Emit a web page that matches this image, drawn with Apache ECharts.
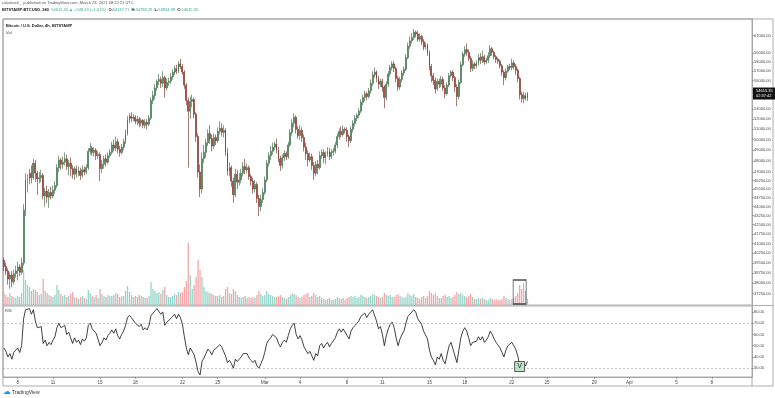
<!DOCTYPE html>
<html><head><meta charset="utf-8">
<script src="https://cdn.jsdelivr.net/npm/echarts@6/dist/echarts.min.js"></script>
<style>html,body{margin:0;padding:0;background:#fff}#c{width:775px;height:398px}</style>
</head><body><div id="c"></div>
<script>
// 4h slots starting 2021-02-06 20:00 UTC
const slotCount = 382;
const startUTC = Date.UTC(2021, 1, 6, 20);

// [open, close, low, high] per 4h candle
const candles = [
[39700,39250,38900,39900],
[39250,38900,38600,39500],[38900,38300,37900,39100],[38300,38600,37600,38800],[38600,38100,37700,38900],[38100,38700,37900,39000],[38700,38900,38400,39300],
[38900,39200,38200,39600],[39200,38800,38500,39400],[38800,39500,38600,39900],[39500,43700,39300,44200],[43700,46300,43200,46900],[46300,46400,45200,46800],
[46400,46900,45900,47300],[46900,46500,46000,47600],[46500,47800,46300,48200],[47800,46900,46100,48100],[46900,46400,45000,47100],[46400,46500,46000,47000],
[46500,46700,46100,47200],[46700,44900,44600,46900],[44900,45300,44000,45600],[45300,44800,44300,45800],[44800,45200,43900,45500],[45200,44900,44600,45700],
[44900,45400,44700,45800],[45400,45800,45100,46200],[45800,47400,45600,47700],[47400,48100,47000,48500],[48100,47700,47200,48300],[47700,47900,47300,48400],
[47900,48200,47600,48800],[48200,47500,47200,48600],[47500,47800,46700,48100],[47800,47300,46600,48300],[47300,46800,46400,47600],[46800,47300,46300,47500],
[47300,46900,46500,47600],[46900,47100,46600,47500],[47100,46700,46300,47400],[46700,47200,46500,47600],[47200,47000,46700,47500],[47000,47400,46800,47700],
[47400,48900,47200,49200],[48900,49200,48600,49700],[49200,48800,48500,49400],[48800,49000,48400,49300],[49000,48500,48100,49200],[48500,48600,48200,48900],
[48600,47300,46200,48800],[47300,47700,46900,48100],[47700,48200,47300,48500],[48200,47900,47500,48600],[47900,48500,47700,48800],[48500,48800,48300,49100],
[48800,49500,48600,49800],[49500,49200,48900,50000],[49200,49800,48900,50300],[49800,49100,48700,50100],[49100,48800,48400,49400],[48800,49300,48600,49600],
[49300,49800,49000,50100],[49800,50600,49600,51000],[50600,51900,50400,52300],[51900,52300,51600,52600],[52300,52100,51700,52700],[52100,52200,51800,52500],
[52200,51800,51500,52400],[51800,52000,51400,52300],[52000,51600,51200,52200],[51600,51900,51300,52100],[51900,51400,51100,52000],[51400,51700,51100,52000],
[51700,51500,51000,52000],[51500,52100,51300,52400],[52100,53900,51900,54200],[53900,54400,53500,54900],[54400,55200,54000,55600],[55200,55900,54900,56100],
[55900,56100,55500,56700],[56100,55700,55200,56400],[55700,56300,55300,57000],[56300,55200,54200,56500],[55200,55800,54900,56200],[55800,55900,55400,56300],
[55900,56400,55600,56800],[56400,56900,56100,57200],[56900,57300,56600,57600],[57300,57000,56700,57700],[57000,57800,56800,58100],[57800,57500,57200,58350],
[57500,56900,56600,57800],[56900,55500,55100,57100],[55500,53900,53400,55700],[53900,52800,47400,54200],[52800,53800,52000,54300],[53800,54000,53200,54500],
[54000,52500,52100,54200],[52500,50300,49800,52700],[50300,47000,46500,50600],[47000,45500,44800,47700],[45500,48200,45100,48800],[48200,48800,47800,49500],
[48800,49700,48300,50100],[49700,50600,49400,51000],[50600,50100,49600,51400],[50100,49400,48900,50500],[49400,50200,49100,50600],[50200,49900,49500,50500],
[49900,50800,49700,51200],[50800,51100,50500,51800],[51100,50700,50300,51600],[50700,50900,50200,51400],[50900,48800,48500,51100],[48800,47100,46700,49200],
[47100,47400,46600,47900],[47400,46200,45700,47600],[46200,45000,44300,46500],[45000,46800,44800,47300],[46800,46100,45500,47200],[46100,46300,45800,46900],
[46300,46900,46000,47300],[46900,47500,46600,47900],[47500,47200,46800,48200],[47200,47400,46900,47800],[47400,46600,46300,47600],[46600,46200,45800,46800],
[46200,45500,45100,46500],[45500,45900,45200,46300],[45900,44700,44300,46100],[44700,44000,43200,45000],[44000,44600,43600,45000],[44600,45200,44300,45600],
[45200,46300,45000,46600],[46300,47800,46100,48100],[47800,48500,47500,48800],[48500,48900,48100,49400],[48900,49300,48600,49700],[49300,49600,49000,49800],
[49600,49000,48700,50100],[49000,48200,47900,49300],[48200,47600,47100,48500],[47600,48300,47300,48600],[48300,48700,48000,49000],[48700,48400,48100,48900],
[48400,49500,48200,49800],[49500,50700,49300,51000],[50700,51600,50400,52000],[51600,52200,51200,52600],[52200,51000,50600,52400],[51000,50400,50100,51300],
[50400,50900,50000,51400],[50900,50200,49800,51200],[50200,49300,48900,50500],[49300,48700,48100,49700],[48700,48100,47500,49000],[48100,48400,47900,48800],
[48400,47600,47200,48700],[47600,46900,46300,47900],[46900,47700,46600,48000],[47700,47400,46800,48100],[47400,48500,47200,48900],[48500,48800,48200,49100],
[48800,48300,47800,49100],[48300,48600,47700,48900],[48600,48900,48400,49300],[48900,48400,48100,49200],[48400,48800,48200,49100],[48800,48900,48500,49200],
[48900,49500,48700,49800],[49500,50300,49200,50600],[50300,50800,50000,51100],[50800,50500,50200,51300],[50500,51000,50300,51400],[51000,50900,50600,51200],
[50900,50300,49800,51200],[50300,49900,49300,50500],[49900,51000,49700,51300],[51000,51600,50700,51900],[51600,52100,51300,52400],[52100,52400,51800,52600],
[52400,52800,52100,53100],[52800,53700,52600,54000],[53700,54200,53400,54500],[54200,54600,53800,54900],[54600,54300,53900,54800],[54300,54900,54100,55200],
[54900,55700,54600,56100],[55700,56600,55400,57000],[56600,56900,56300,57400],[56900,56200,55800,57100],[56200,55600,55100,56500],[55600,55900,55300,56200],
[55900,55300,54800,56200],[55300,54200,53100,55500],[54200,55600,53900,55900],[55600,56700,55300,57000],[56700,57400,56400,57700],[57400,57800,57100,58100],
[57800,57300,56900,58100],[57300,56200,55800,57500],[56200,55300,54900,56500],[55300,56100,55000,56400],[56100,56800,55800,57100],[56800,57200,56500,57500],
[57200,58500,57000,58900],[58500,59800,58300,60200],[59800,60400,59500,60900],[60400,60800,60100,61300],[60800,61400,60500,61788],[61400,61200,60800,61600],
[61200,60600,60300,61600],[60600,60900,60300,61300],[60900,60300,59900,61100],[60300,59700,59300,60600],[59700,59900,59400,60200],[59900,59000,58700,60100],
[59000,57500,57100,59300],[57500,56500,55800,57800],[56500,56000,55500,56800],[56000,55100,54600,56300],[55100,55900,54900,56200],[55900,55600,55200,56200],
[55600,56100,55300,56500],[56100,55200,54900,56400],[55200,54600,54100,55500],[54600,55500,54400,55800],[55500,56500,55300,56800],[56500,56900,56300,57100],
[56900,56300,55900,57100],[56300,55300,54800,56500],[55300,54300,53300,55600],[54300,55800,54000,56100],[55800,57700,55600,58100],[57700,58900,57500,59200],
[58900,59400,58600,59800],[59400,59100,58700,60100],[59100,58400,58100,59400],[58400,57300,56900,58700],[57300,57800,57000,58200],[57800,57600,57200,58000],
[57600,57900,57300,58200],[57900,58500,57600,58900],[58500,58200,57800,59000],[58200,58600,57900,59300],[58600,58000,57700,58800],[58000,58200,57800,58500],
[58200,58700,57900,59100],[58700,59500,58400,59900],[59500,59100,58700,59700],[59100,58600,58300,59300],[58600,58300,57900,58800],[58300,58100,57800,58500],
[58100,57600,57300,58300],[57600,56900,56500,57800],[56900,56300,55500,57100],[56300,57000,56000,57300],[57000,57500,56800,57700],[57500,57400,57100,57800],
[57400,57900,57100,58400],[57900,57500,57200,58200],[57500,57100,56600,57800],[57100,56200,55800,57300],[56200,54500,54000,56400],[54500,54100,53700,54800],
[54100,54400,53600,54800],[54400,54117.71,53900,54700],[54117.71,54615.35,53834.38,54788.29]
];

// volume per candle (hundreds of BTC)
const volumes = [
12,
10,8,12,9,8,7,
9,8,12,35,25,20,
18,14,16,15,13,10,
11,26,14,12,10,9,
8,10,20,15,11,9,
10,8,9,11,13,8,
7,6,8,9,7,6,
15,12,9,8,10,7,
16,11,9,8,10,9,
9,10,12,11,8,9,
9,14,19,13,10,8,
9,8,10,9,8,7,
7,9,23,16,14,12,
13,11,15,18,10,8,
8,9,11,10,13,12,
13,18,24,62,30,16,
20,28,45,35,28,18,
14,13,12,11,10,9,
9,10,8,9,16,18,
12,11,16,14,10,8,
7,8,9,7,8,7,
8,7,10,14,11,9,
10,14,11,10,9,8,
8,9,10,8,7,6,
8,10,12,11,10,8,
7,8,10,11,12,8,
9,12,10,8,9,7,
6,5,6,7,5,5,
6,8,7,6,7,5,
7,8,9,8,9,7,
8,10,9,8,7,8,
9,11,10,9,8,7,
8,12,10,9,10,8,
8,10,11,9,8,7,
8,12,10,9,11,8,
7,6,8,9,7,9,
14,12,10,12,9,7,
7,9,10,8,9,7,
8,10,13,11,12,10,
9,8,9,11,8,6,
6,7,6,7,6,5,
5,7,6,5,6,5,
5,6,9,7,6,5,
6,7,9,12,20,16,
22,14,6
];

// RSI(14) per candle
const rsiValues = [
48,
45,40,43,38,44,46,
48,44,50,74,82,82,
83,78,82,72,66,66,
67,52,55,50,53,51,
55,58,66,70,66,67,
68,60,62,57,52,57,
53,55,51,56,54,57,
68,70,65,66,61,62,
50,53,57,55,59,61,
64,61,65,59,56,60,
63,68,75,77,75,75,
70,71,67,69,64,66,
64,68,77,79,81,83,
83,78,80,68,71,71,
74,76,78,74,78,75,
69,58,48,42,48,49,
42,35,27,24,36,39,
43,47,45,42,46,45,
49,51,49,50,41,35,
37,34,30,38,36,37,
40,43,42,43,39,37,
35,37,32,30,34,38,
44,52,55,57,60,61,
57,52,49,53,55,53,
59,65,68,70,60,56,
59,55,49,46,43,45,
41,37,43,41,50,52,
48,51,53,49,52,53,
57,62,65,62,65,64,
59,56,63,66,68,70,
72,76,77,79,75,78,
80,82,83,72,65,67,
60,50,59,65,69,71,
66,57,50,56,60,63,
70,76,78,80,82,80,
74,75,69,63,64,56,
46,40,37,33,40,38,
43,37,34,42,50,53,
47,41,35,46,57,63,
66,63,57,50,53,52,
54,58,55,58,53,55,
58,63,60,56,53,52,
48,44,40,46,50,49,
53,50,47,41,33,31,
34,32,36
];

const priceTicks = [61000,59000,58000,57000,56000,55000,53000,52000,51000,50000,49000,48000,47000,46250,45500,44750,44000,43250,42500,41750,41000,40250,39500,38750,38000,37250];
const rsiTicks = [80,70,60,50,40,30];
const timeTickLabels = {'02-08 00':'8','02-11 00':'11','02-15 00':'15','02-18 00':'18','02-22 00':'22','02-25 00':'25','03-01 00':'Mar','03-04 00':'4','03-08 00':'8','03-11 00':'11','03-15 00':'15','03-18 00':'18','03-22 00':'22','03-25 00':'25','03-29 00':'29','04-01 00':'Apr','04-05 00':'5','04-08 00':'8'};

// annotation boxes drawn by the author: [category index, value]
const volumeBox = [263, 13];
const rsiBox = [263, 31.5];

const categories = [];
for (let i = 0; i < slotCount; i++) {
  const d = new Date(startUTC + i * 4 * 3600 * 1000);
  const p = n => String(n).padStart(2, '0');
  categories.push(p(d.getUTCMonth() + 1) + '-' + p(d.getUTCDate()) + ' ' + p(d.getUTCHours()));
}

const UP = '#6ba583', DOWN = '#d75442';
const VUP = '#93d5c9', VDOWN = '#f5a5a8';
const FONT = '"Liberation Sans", Arial, sans-serif';
const last = candles[candles.length - 1];

const chart = echarts.init(document.getElementById('c'), null, {renderer: 'canvas'});
const showLabel = (i, v) => Object.prototype.hasOwnProperty.call(timeTickLabels, v);

chart.setOption({
  animation: false,
  textStyle: {fontFamily: FONT},
  grid: [
    {left: 3, right: 23, top: 19, height: 286, show: true, borderColor: '#9a9a9a', borderWidth: 0.8},
    {left: 3, right: 23, top: 19, height: 286},
    {left: 3, right: 23, top: 306, height: 71, show: true, borderColor: '#9a9a9a', borderWidth: 0.8}
  ],
  xAxis: [
    {type: 'category', gridIndex: 0, data: categories, boundaryGap: true, axisLine: {show: false}, axisTick: {show: false}, axisLabel: {show: false}},
    {type: 'category', gridIndex: 1, data: categories, boundaryGap: true, axisLine: {show: false}, axisTick: {show: false}, axisLabel: {show: false}},
    {type: 'category', gridIndex: 2, data: categories, boundaryGap: true,
      axisLine: {show: true, lineStyle: {color: '#9a9a9a', width: 0.8}},
      axisTick: {show: true, interval: showLabel, alignWithLabel: true, length: 2, lineStyle: {color: '#777', width: 0.6}},
      axisLabel: {show: true, interval: showLabel, formatter: v => timeTickLabels[v] || '', fontSize: 4.5, color: '#444', margin: 3}}
  ],
  yAxis: [
    {type: 'log', logBase: 10, gridIndex: 0, position: 'right', min: 36450, max: 62980, scale: true,
      axisLine: {show: true, lineStyle: {color: '#9a9a9a', width: 0.8}},
      axisTick: {show: true, length: 2, customValues: priceTicks, lineStyle: {color: '#777', width: 0.6}},
      axisLabel: {show: true, customValues: priceTicks, formatter: v => Number(v).toFixed(2), fontSize: 4, color: '#444', margin: 2},
      splitLine: {show: false}},
    {type: 'value', gridIndex: 1, min: 0, max: 286, show: false, splitLine: {show: false}},
    {type: 'value', gridIndex: 2, position: 'right', min: 22.2, max: 85.3,
      axisLine: {show: true, lineStyle: {color: '#9a9a9a', width: 0.8}},
      axisTick: {show: true, length: 2, customValues: rsiTicks, lineStyle: {color: '#777', width: 0.6}},
      axisLabel: {show: true, customValues: rsiTicks, formatter: v => Number(v).toFixed(2), fontSize: 4, color: '#444', margin: 2},
      splitLine: {show: false}}
  ],
  series: [
    {type: 'bar', name: 'Vol', xAxisIndex: 1, yAxisIndex: 1, barWidth: 1.3,
      data: volumes.map((v, i) => ({value: v, itemStyle: {color: candles[i][1] >= candles[i][0] ? VUP : VDOWN}}))},
    {type: 'scatter', name: 'VolBox', xAxisIndex: 1, yAxisIndex: 1, symbol: 'rect', symbolSize: [13, 24], silent: true, z: 5,
      itemStyle: {color: 'rgba(0,0,0,0)', borderColor: '#222', borderWidth: 1},
      data: [volumeBox]},
    {type: 'candlestick', name: 'BTCUSD', xAxisIndex: 0, yAxisIndex: 0, barWidth: 1.4,
      data: candles,
      itemStyle: {color: UP, color0: DOWN, borderColor: '#2e5e36', borderColor0: '#6b2119', borderWidth: 0.6},
      markLine: {silent: true, symbol: 'none', lineStyle: {color: 'rgba(0,0,0,0)'},
        label: {show: true, position: 'end', distance: 1, formatter: '54615.35\n02:37:42', color: '#fff', backgroundColor: '#111', fontSize: 4, lineHeight: 5, padding: [1, 3]},
        data: [{yAxis: last[1]}]}},
    {type: 'line', name: 'RSI', xAxisIndex: 2, yAxisIndex: 2, data: rsiValues, showSymbol: false,
      lineStyle: {color: '#111', width: 0.8},
      markLine: {silent: true, symbol: 'none', label: {show: false},
        lineStyle: {color: '#999', type: [2, 2], width: 0.6}, data: [{yAxis: 70}, {yAxis: 30}]},
      markPoint: {silent: true, symbol: 'rect', symbolSize: [10, 10],
        itemStyle: {color: '#bfe3c6', borderColor: '#333', borderWidth: 0.8},
        label: {show: true, formatter: 'V', fontSize: 7, color: '#222'},
        data: [{coord: rsiBox}]}}
  ],
  graphic: [
    {type: 'rect', shape: {x: 3, y: 19, width: 770, height: 367}, style: {fill: 'none', stroke: '#9a9a9a', lineWidth: 0.8}, silent: true},
    {type: 'line', shape: {x1: 752, y1: 305.5, x2: 773, y2: 305.5}, style: {stroke: '#9a9a9a', lineWidth: 0.8}, silent: true},
    {type: 'line', shape: {x1: 752, y1: 377, x2: 752, y2: 386}, style: {stroke: '#9a9a9a', lineWidth: 0.8}, silent: true},
    {type: 'text', left: 2, top: 1, style: {text: 'cakakosh_  published on TradingView.com, March 23, 2021 08:22:21 UTC', fontSize: 4, fill: '#555', fontFamily: FONT}},
    {type: 'text', left: 2, top: 8, style: {
      text: '{b|BITSTAMP:BTCUSD, 240}  {g|54615.35 ▲ +548.43 (+1.01%)}  {b|O:}{g|54117.71}  {b|H:}{g|54788.29}  {b|L:}{g|53834.38}  {b|C:}{g|54615.35}',
      fontSize: 4, fontFamily: FONT,
      rich: {b: {fontSize: 4, fontWeight: 'bold', fill: '#222'}, g: {fontSize: 4, fill: '#3aa38f'}}}},
    {type: 'text', left: 6, top: 24, style: {text: 'Bitcoin / U.S. Dollar, 4h, BITSTAMP', fontSize: 4, fontWeight: 'bold', fill: '#222', fontFamily: FONT}},
    {type: 'text', left: 6, top: 31, style: {text: 'Vol', fontSize: 4, fill: '#444', fontFamily: FONT}},
    {type: 'text', left: 5, top: 309, style: {text: 'RSI', fontSize: 4, fill: '#444', fontFamily: FONT}},
    {type: 'text', left: 3, top: 388, style: {text: '☁', fontSize: 8, fill: '#2196f3', fontFamily: '"DejaVu Sans"'}},
    {type: 'text', left: 12, top: 390, style: {text: 'TradingView', fontSize: 5, fill: '#333', fontFamily: FONT}}
  ]
});
</script>
</body></html>
